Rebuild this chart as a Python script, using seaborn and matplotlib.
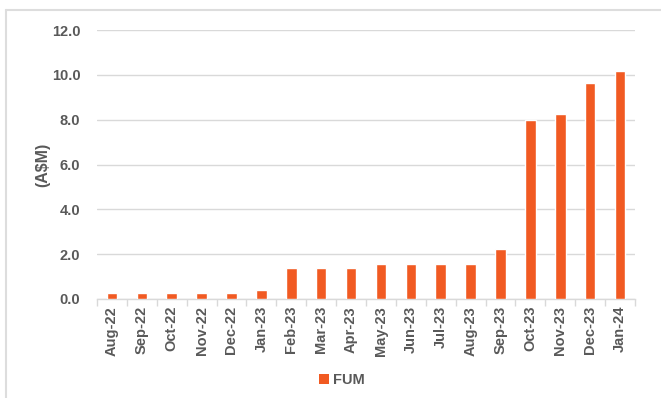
import matplotlib
matplotlib.use("Agg")
import matplotlib.pyplot as plt
import matplotlib.lines as mlines
from matplotlib.patches import Patch
from matplotlib.ticker import FixedLocator
import seaborn as sns
import pandas as pd

months = ["Aug-22", "Sep-22", "Oct-22", "Nov-22", "Dec-22", "Jan-23", "Feb-23",
          "Mar-23", "Apr-23", "May-23", "Jun-23", "Jul-23", "Aug-23", "Sep-23",
          "Oct-23", "Nov-23", "Dec-23", "Jan-24"]
fum = [0.28, 0.28, 0.28, 0.28, 0.28, 0.38, 1.37, 1.37, 1.37, 1.58, 1.58, 1.58,
       1.58, 2.25, 8.0, 8.27, 9.62, 10.18]
y_ticks = [0, 2, 4, 6, 8, 10, 12]

sns.set_theme(style="white")
plt.rcParams["font.family"] = ["Liberation Sans Narrow", "Liberation Sans", "DejaVu Sans"]
plt.rcParams["font.weight"] = "bold"

text_col = "#595959"
grid_col = "#D9D9D9"
bar_col = "#F15A22"

df = pd.DataFrame({"Month": months, "FUM": fum})

fig = plt.figure(figsize=(6.61, 3.98), dpi=100)
ax = fig.add_axes([97 / 661, 1 - 299 / 398, (635 - 97) / 661, (299 - 30) / 398])

sns.barplot(data=df, x="Month", y="FUM", color=bar_col, width=0.35,
            saturation=1, ax=ax, zorder=3)

ax.set_ylim(0, 12)
ax.set_xlim(-0.5, len(months) - 0.5)
ax.set_yticks(y_ticks)
ax.set_yticklabels([f"{v:.1f}" for v in y_ticks], color=text_col,
                   fontsize=10.5, fontweight="bold")
ax.set_xticks(range(len(months)))
ax.set_xticklabels(months, rotation=90, color=text_col, fontsize=10.5,
                   fontweight="bold")
ax.xaxis.set_minor_locator(FixedLocator([i - 0.5 for i in range(len(months) + 1)]))
ax.tick_params(axis="x", which="major", length=0, pad=5)
ax.tick_params(axis="x", which="minor", length=5, color=grid_col, width=1,
               bottom=True)
ax.tick_params(axis="y", length=0, pad=12)

ax.yaxis.grid(True, color=grid_col, linewidth=1, zorder=0)
ax.set_axisbelow(True)
for side in ["top", "right", "left"]:
    ax.spines[side].set_visible(False)
ax.spines["bottom"].set_color(grid_col)
ax.spines["bottom"].set_linewidth(1)

ax.set_xlabel("")
ax.set_ylabel("(A$M)", color=text_col, fontsize=11.5, fontweight="bold",
              labelpad=1)

handle = Patch(facecolor=bar_col, edgecolor="none", label="FUM")
fig.legend(handles=[handle], loc="center", bbox_to_anchor=(342 / 661, 1 - 380 / 398),
           frameon=False, handlelength=0.7, handleheight=0.7, handletextpad=0.3,
           prop={"size": 10.5, "weight": "bold"}, labelcolor=text_col)

# Light frame along the top and left edges of the figure
fig.add_artist(mlines.Line2D([6 / 661, 1], [1 - 10 / 398, 1 - 10 / 398],
                             color="#DDDDDD", linewidth=1.5, transform=fig.transFigure))
fig.add_artist(mlines.Line2D([6 / 661, 6 / 661], [0, 1 - 10 / 398],
                             color="#DDDDDD", linewidth=1.5, transform=fig.transFigure))

fig.savefig("out.png", dpi=100)
